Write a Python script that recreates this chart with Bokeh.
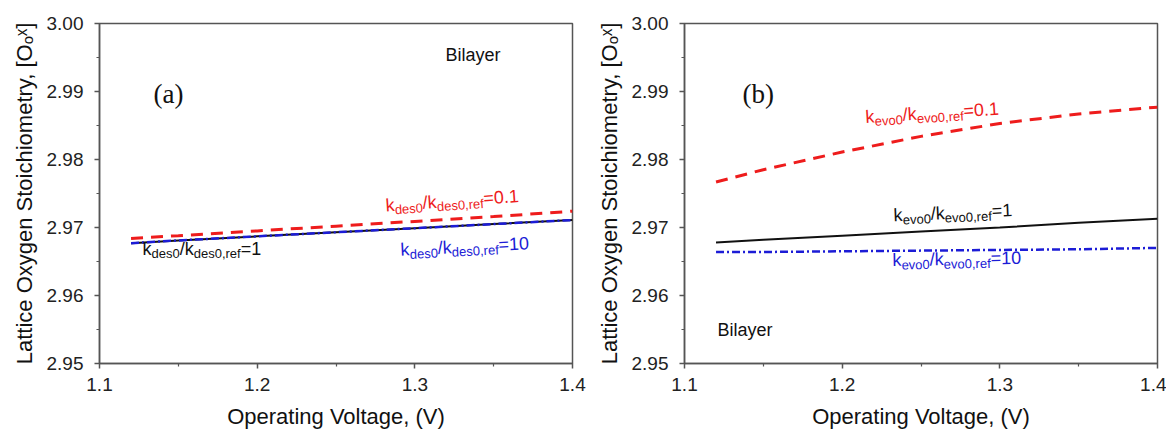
import math
from bokeh.plotting import figure
from bokeh.layouts import row
from bokeh.models import Range1d, FixedTicker, NumeralTickFormatter
from bokeh.embed import file_html
from bokeh.resources import INLINE
from bokeh.core.properties import value

# ---------------- data ----------------
voltage = [1.12, 1.15, 1.20, 1.25, 1.30, 1.35, 1.40]

# panel (a): k_des0 variation
a_des_01 = [2.9684, 2.9688, 2.9695, 2.9702, 2.9709, 2.9716, 2.9724]
a_des_1 = [2.9677, 2.9681, 2.9687, 2.9693, 2.9699, 2.9705, 2.9711]
a_des_10 = [2.9677, 2.9681, 2.9687, 2.9693, 2.9699, 2.9705, 2.9711]

# panel (b): k_evo0 variation
b_evo_01 = [2.9767, 2.9785, 2.9811, 2.9834, 2.9853, 2.9867, 2.9877]
b_evo_1 = [2.9678, 2.9682, 2.9688, 2.9694, 2.9700, 2.9707, 2.9713]
b_evo_10 = [2.9664, 2.9664, 2.9665, 2.9666, 2.9667, 2.9668, 2.9670]

x_ticks = [1.1, 1.2, 1.3, 1.4]
x_minor = [1.15, 1.25, 1.35]
y_ticks = [2.95, 2.96, 2.97, 2.98, 2.99, 3.00]
y_minor = [2.955, 2.965, 2.975, 2.985, 2.995]

X_LABEL = "Operating Voltage, (V)"
Y_LABEL = "Lattice Oxygen Stoichiometry, [O\u2092\u02e3]"

RED = "#ee1c1c"
BLACK = "#111111"
BLUE = "#1c1cd6"
AX = "#555555"
FONT = "Liberation Sans"

# Arial / Liberation Sans advance widths (em)
W = {"k": .5, "d": .556, "e": .556, "s": .5, "0": .556, "/": .278, ",": .278,
     "r": .333, "f": .278, "=": .584, ".": .278, "1": .556, "v": .5, "o": .556}


def tw(s, size):
    return sum(W.get(c, .556) for c in s) * size


def ratio_label(p, x, y, sub, val, color, deg=0.0, main=18, small=13):
    a = math.radians(deg)
    parts = [("k", False), (sub, True), ("/k", False), (sub + ",ref", True), ("=" + val, False)]
    off = 0.0
    for txt, is_sub in parts:
        size = small if is_sub else main
        dv = 5 if is_sub else 0
        xo = off * math.cos(a) + dv * math.sin(a)
        yo = -off * math.sin(a) + dv * math.cos(a)
        p.text(x=[x], y=[y], text=[txt], text_font=value(FONT),
               text_font_size=f"{size}px", text_color=color,
               text_baseline="alphabetic", text_align="left",
               x_offset=xo, y_offset=yo, angle=a)
        off += tw(txt, size)


def make_panel(width, bl, br, bt):
    p = figure(width=width, height=431, output_backend="svg", toolbar_location=None,
               x_range=Range1d(1.1, 1.4), y_range=Range1d(2.95, 3.0),
               min_border_left=bl, min_border_right=br, min_border_top=bt,
               min_border_bottom=10)
    p.xgrid.visible = False
    p.ygrid.visible = False
    p.outline_line_color = AX
    p.outline_line_width = 1.5
    p.background_fill_color = "white"
    p.border_fill_color = "white"
    p.xaxis.ticker = FixedTicker(ticks=x_ticks, minor_ticks=x_minor)
    p.yaxis.ticker = FixedTicker(ticks=y_ticks, minor_ticks=y_minor)
    p.xaxis.formatter = NumeralTickFormatter(format="0.0")
    p.yaxis.formatter = NumeralTickFormatter(format="0.00")
    p.xaxis.axis_label = X_LABEL
    p.yaxis.axis_label = Y_LABEL
    for ax in (p.xaxis, p.yaxis):
        ax.axis_line_color = AX
        ax.axis_line_width = 1.5
        ax.major_tick_line_color = AX
        ax.major_tick_line_width = 1.5
        ax.minor_tick_line_color = AX
        ax.minor_tick_line_width = 1.2
        ax.major_tick_in = 0
        ax.major_tick_out = 5
        ax.minor_tick_in = 0
        ax.minor_tick_out = 3
        ax.major_label_text_font = FONT
        ax.major_label_text_font_size = "19px"
        ax.major_label_text_color = "#222222"
        ax.axis_label_text_font = FONT
        ax.axis_label_text_font_size = "22px"
        ax.axis_label_text_font_style = "normal"
        ax.axis_label_text_color = "#111111"
    p.xaxis.major_label_standoff = 9
    p.xaxis.axis_label_standoff = 10
    p.yaxis.major_label_standoff = 11
    p.yaxis.axis_label_standoff = 7
    return p


# ---------------- panel (a) ----------------
pa = make_panel(592, 99, 20, 20)
pa.line(voltage, a_des_01, line_color=RED, line_width=3, line_dash="12 8")
pa.line(voltage, a_des_1, line_color=BLACK, line_width=2)
pa.line(voltage, a_des_10, line_color=BLUE, line_width=2.5, line_dash="8 3 2 3")
ratio_label(pa, 1.2814, 2.97325, "des0", "0.1", RED, deg=4)
ratio_label(pa, 1.2909, 2.96671, "des0", "10", BLUE, deg=3)
ratio_label(pa, 1.1273, 2.96686, "des0", "1", BLACK, deg=0)
pa.text(x=[1.1342], y=[2.98964], text=["(a)"], text_font=value("Liberation Serif"),
        text_font_size="27px", text_color="#111111", text_baseline="alphabetic")
pa.text(x=[1.3195], y=[2.99535], text=["Bilayer"], text_font=value(FONT),
        text_font_size="18px", text_color="#111111", text_baseline="alphabetic")

# ---------------- panel (b) ----------------
pb = make_panel(574, 92, 9, 23)
pb.line(voltage, b_evo_01, line_color=RED, line_width=3, line_dash="12 8")
pb.line(voltage, b_evo_1, line_color=BLACK, line_width=2)
pb.line(voltage, b_evo_10, line_color=BLUE, line_width=2.5, line_dash="8 3 2 3")
ratio_label(pb, 1.2148, 2.98626, "evo0", "0.1", RED, deg=3.5)
ratio_label(pb, 1.2326, 2.97179, "evo0", "1", BLACK, deg=2.5)
ratio_label(pb, 1.2319, 2.96521, "evo0", "10", BLUE, deg=1)
pb.text(x=[1.1368], y=[2.9896], text=["(b)"], text_font=value("Liberation Serif"),
        text_font_size="27px", text_color="#111111", text_baseline="alphabetic")
pb.text(x=[1.1209], y=[2.95497], text=["Bilayer"], text_font=value(FONT),
        text_font_size="18px", text_color="#111111", text_baseline="alphabetic")

layout = row(pa, pb)
open("out.html", "w").write(file_html(layout, INLINE))
